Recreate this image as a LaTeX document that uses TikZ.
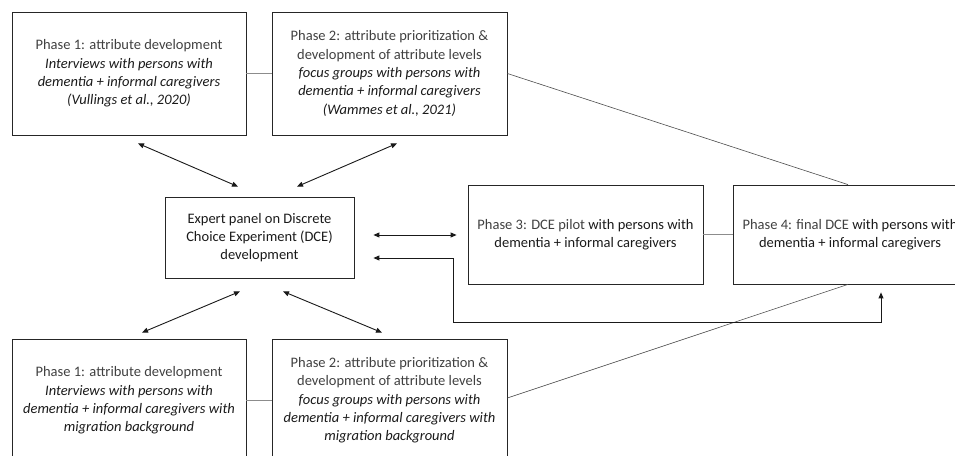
\documentclass[tikz,border=0pt]{standalone}
\usepackage{fontspec}
\setmainfont{Carlito}
\usetikzlibrary{arrows.meta}
\definecolor{hdrgray}{HTML}{404040}
\definecolor{txtgray}{HTML}{1A1A1A}
\definecolor{linegray}{HTML}{8C8C8C}
\newcommand{\hdr}[1]{{\color{hdrgray}#1}}

\begin{document}
\begin{tikzpicture}[x=1pt,y=-1pt,
	phasebox/.style={draw=black!85, line width=0.8pt, align=center, inner sep=0pt,
		text=txtgray, font=\fontsize{14.5}{18.3}\selectfont},
	link/.style={draw=linegray, line width=0.8pt},
	thinlink/.style={draw=black!70, line width=0.6pt},
	twoway/.style={{Triangle[length=6pt,width=5pt]}-{Triangle[length=6pt,width=5pt]},
		line width=0.9pt, draw=black!90}]
		\useasboundingbox (0,0) rectangle (955,455);
		\clip (0,0) rectangle (955,455);

		% boxes
		\node[phasebox, minimum width=234, minimum height=123] (p1top) at (129,73.5)
			{\hdr{Phase 1: attribute development}\\ \textit{Interviews with persons with}\\
			 \textit{dementia + informal caregivers}\\ \textit{(Vullings et al., 2020)}};
		\node[phasebox, minimum width=235, minimum height=123] (p2top) at (389.5,73.5)
			{\hdr{Phase 2: attribute prioritization \&}\\ \hdr{development of attribute levels}\\
			 \textit{focus groups with persons with}\\ \textit{dementia + informal caregivers}\\
			 \textit{(Wammes et al., 2021)}};
		\node[phasebox, minimum width=189, minimum height=81] (panel) at (259.5,237.5)
			{Expert panel on Discrete\\ Choice Experiment (DCE)\\ development};
		\node[phasebox, minimum width=235, minimum height=99] (p3) at (585.5,234.5)
			{\hdr{Phase 3: DCE pilot} with persons with\\ dementia + informal caregivers};
		\node[phasebox, minimum width=234, minimum height=99] (p4) at (850,234.5)
			{\hdr{Phase 4: final DCE} with persons with\\ dementia + informal caregivers};
		\node[phasebox, minimum width=234, minimum height=123] (p1bot) at (129,400.5)
			{\hdr{Phase 1: attribute development}\\ \textit{Interviews with persons with}\\
			 \textit{dementia + informal caregivers with}\\ \textit{migration background}};
		\node[phasebox, minimum width=235, minimum height=123] (p2bot) at (389.5,400.5)
			{\hdr{Phase 2: attribute prioritization \&}\\ \hdr{development of attribute levels}\\
			 \textit{focus groups with persons with}\\ \textit{dementia + informal caregivers with}\\
			 \textit{migration background}};

		% plain links
		\draw[link] (p1top.east) -- (p2top.west);
		\draw[link] (p3.east) -- (p4.west);
		\draw[link] (p1bot.east) -- (p2bot.west);
		\draw[thinlink] (p2top.east) -- ([xshift=-2]p4.north);
		\draw[thinlink] ([xshift=-2]p4.south) -- ([shift={(0,-2.5)}]p2bot.east);

		% arrows to and from the panel
		\draw[twoway] ([shift={(9,8)}]p1top.south) -- ([shift={(-21.5,-10)}]panel.north);
		\draw[twoway] ([shift={(7.5,8)}]p2top.south) -- ([shift={(37.5,-10)}]panel.north);
		\draw[twoway] ([shift={(-19.5,13)}]panel.south) -- ([shift={(13,-6)}]p1bot.north);
		\draw[twoway] ([shift={(23.5,13)}]panel.south) -- ([shift={(-7.5,-6)}]p2bot.north);
		\draw[twoway] ([shift={(19,-2.5)}]panel.east) -- ([shift={(-11,0.5)}]p3.west);
		\coordinate (loop) at (453,322);
		\draw[twoway] ([shift={(19,20.5)}]panel.east) -| (loop) -| ([shift={(31,8)}]p4.south);
	\end{tikzpicture}
\end{document}
